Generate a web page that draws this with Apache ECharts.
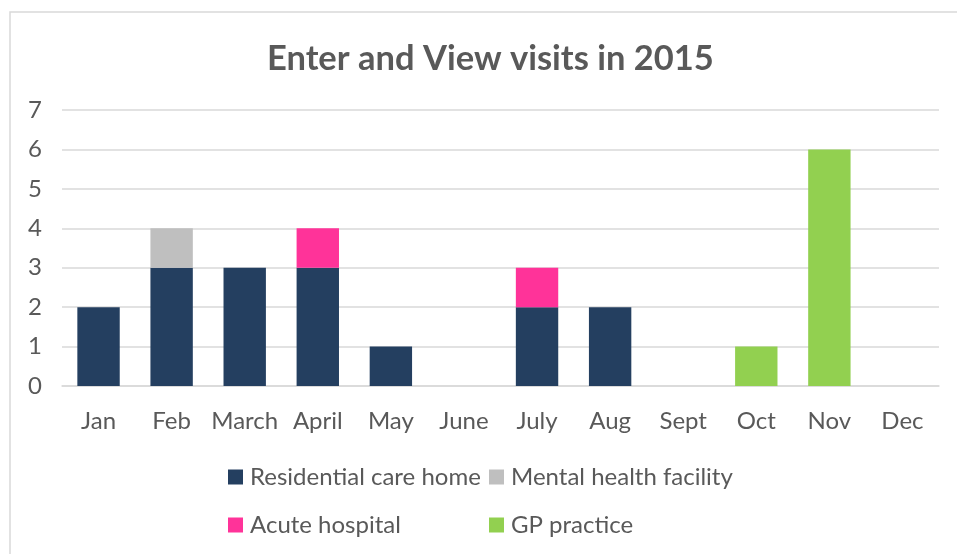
<!DOCTYPE html>
<html>
<head>
<meta charset="utf-8">
<script src="https://cdn.jsdelivr.net/npm/echarts@6/dist/echarts.min.js"></script>
<style>
  html, body { margin: 0; padding: 0; background: #fff; }
  #chart { width: 957px; height: 554px; }
</style>
</head>
<body>
<div id="chart"></div>
<script>
// months on the x axis
const months = ['Jan', 'Feb', 'March', 'April', 'May', 'June', 'July', 'Aug', 'Sept', 'Oct', 'Nov', 'Dec']

// visits per setting type (stacked)
const residential = [2, 3, 3, 3, 1, 0, 2, 2, 0, 0, 0, 0]
const mentalHealth = [0, 1, 0, 0, 0, 0, 0, 0, 0, 0, 0, 0]
const acuteHospital = [0, 0, 0, 1, 0, 0, 1, 0, 0, 0, 0, 0]
const gpPractice = [0, 0, 0, 0, 0, 0, 0, 0, 0, 1, 6, 0]

const textColor = '#595959'
const fontFamily = 'Lato, "Open Sans", sans-serif'

const chart = echarts.init(document.getElementById('chart'))

function legendItem(name, left, top) {
  return {
    data: [name],
    left: left,
    top: top,
    padding: 0,
    icon: 'rect',
    itemWidth: 15,
    itemHeight: 15,
    selectedMode: false,
    textStyle: { color: textColor, fontSize: 24, fontFamily: fontFamily, padding: [0, 0, 0, 2] }
  }
}

function barSeries(name, data, color) {
  return {
    name: name,
    type: 'bar',
    stack: 'total',
    barWidth: '58%',
    itemStyle: { color: color },
    // empty months get no bar piece
    data: data.map(v => (v > 0 ? v : '-'))
  }
}

chart.setOption({
  animation: false,
  backgroundColor: '#fff',
  graphic: [{
    type: 'rect',
    shape: { x: 10, y: 12, width: 980, height: 600 },
    style: { fill: 'none', stroke: '#d9d9d9', lineWidth: 1.5 },
    silent: true
  }],
  title: {
    text: 'Enter and View visits in 2015',
    left: 262,
    top: 36,
    textStyle: { color: textColor, fontSize: 34.5, fontWeight: 'bold', fontFamily: fontFamily }
  },
  legend: [
    legendItem('Residential care home', 228, 465),
    legendItem('Mental health facility', 489, 465),
    legendItem('Acute hospital', 228, 513),
    legendItem('GP practice', 489, 513)
  ],
  grid: { left: 62, right: 18, top: 110, bottom: 168, containLabel: false },
  xAxis: {
    type: 'category',
    data: months,
    axisLine: { lineStyle: { color: '#d9d9d9', width: 1.5 } },
    axisTick: { show: false },
    axisLabel: { color: textColor, fontSize: 24, fontFamily: fontFamily, margin: 23, interval: 0 }
  },
  yAxis: {
    type: 'value',
    min: 0,
    max: 7,
    interval: 1,
    axisLine: { show: false },
    axisTick: { show: false },
    axisLabel: { color: textColor, fontSize: 24, fontFamily: fontFamily, margin: 20 },
    splitLine: { lineStyle: { color: '#d9d9d9', width: 1.5 } }
  },
  series: [
    barSeries('Residential care home', residential, '#243f60'),
    barSeries('Mental health facility', mentalHealth, '#bfbfbf'),
    barSeries('Acute hospital', acuteHospital, '#ff3399'),
    barSeries('GP practice', gpPractice, '#92d050')
  ]
})
</script>
</body>
</html>
